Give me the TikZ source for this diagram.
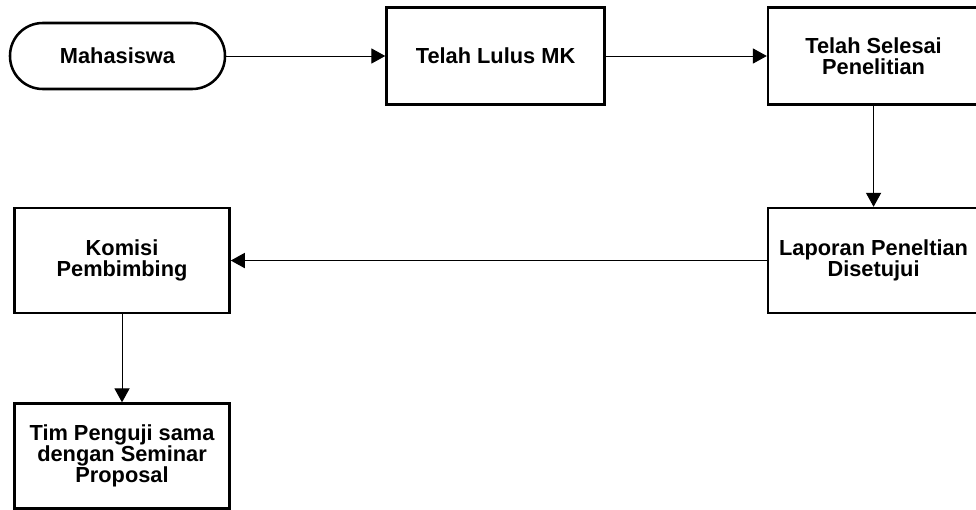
\documentclass[tikz,border=0pt]{standalone}
\usepackage{fontspec}
\setmainfont{Liberation Sans}
\usepackage{tikz}
\usetikzlibrary{arrows.meta,positioning}

\begin{document}
\begin{tikzpicture}[node distance=2.5cm and 4cm,
    box/.style={draw,line width=1.8pt,minimum width=5.3cm,minimum height=2.6cm,
                align=center,font=\fontsize{15.5}{15}\selectfont\bfseries},
    start/.style={box,rounded corners=0.82cm,minimum width=5.375cm,minimum height=1.65cm},
    arr/.style={-{Triangle[length=3.5mm,width=3.8mm]},line width=0.7pt}]
    \useasboundingbox (0,0) rectangle (24.4,-12.725);
    \node[start] (mhs) at (2.9375,-1.4) {Mahasiswa};
    \node[box,right=3.975cm of mhs,minimum width=5.45cm,minimum height=2.425cm] (lulus) {Telah Lulus MK};
    \node[box,right=4.025cm of lulus,minimum width=5.275cm,minimum height=2.425cm] (selesai)
      {Telah Selesai\\Penelitian};
    \node[box,below=2.525cm of selesai,minimum width=5.275cm,minimum height=2.625cm] (laporan)
      {Laporan Peneltian\\Disetujui};
    \node[box,left=13.4cm of laporan,minimum width=5.375cm,minimum height=2.625cm] (komisi)
      {Komisi\\Pembimbing};
    \node[box,below=2.2cm of komisi,minimum width=5.375cm,minimum height=2.62cm] (tim)
      {Tim Penguji sama\\dengan Seminar\\Proposal};
    \draw[arr] (mhs)--(lulus);
    \draw[arr] (lulus)--(selesai);
    \draw[arr] (selesai)--(laporan);
    \draw[arr] (laporan)--(komisi);
    \draw[arr] (komisi)--(tim);
  \end{tikzpicture}
\end{document}
